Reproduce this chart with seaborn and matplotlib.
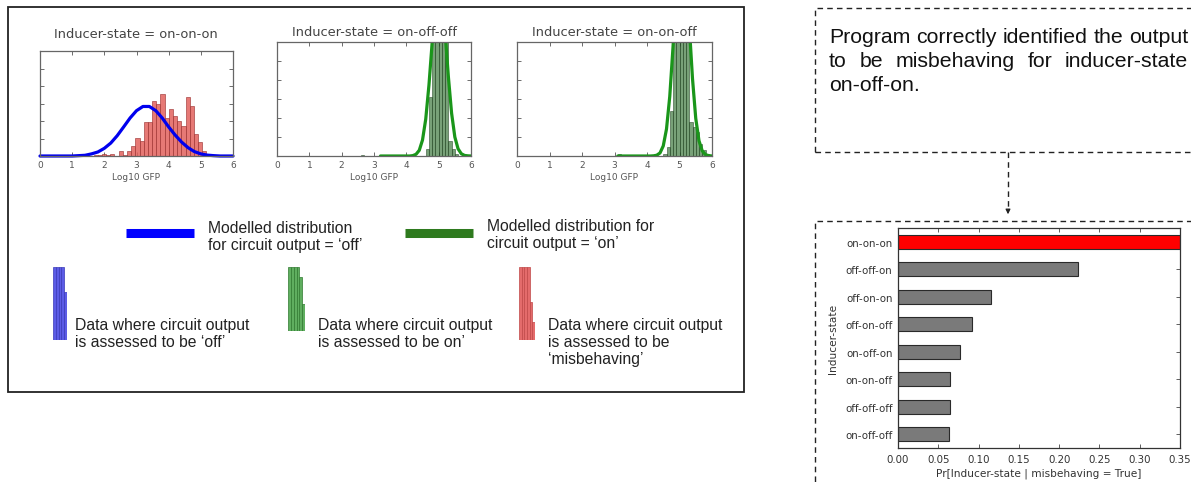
import matplotlib
matplotlib.use("Agg")
import numpy as np
import seaborn as sns
import matplotlib.pyplot as plt
from matplotlib.patches import Rectangle, FancyArrowPatch
from matplotlib.lines import Line2D

# ---- panel data ----
titles = ["Inducer-state = on-on-on", "Inducer-state = on-off-off", "Inducer-state = on-on-off"]

# on-on-on: data judged 'misbehaving' (red) + modelled 'off' distribution (blue)
p1_centers = [1.73, 1.86, 1.99, 2.12, 2.25, 2.38, 2.51, 2.64, 2.77, 2.90, 3.03, 3.16, 3.29, 3.42,
              3.55, 3.68, 3.81, 3.94, 4.07, 4.20, 4.33, 4.46, 4.59, 4.72, 4.85, 4.98, 5.11, 5.24]
p1_counts = [0.05, 0.08, 0.10, 0.04, 0.10, 0.02, 0.28, 0.06, 0.30, 0.59, 1.03, 0.88, 1.94, 1.94,
             3.12, 2.97, 3.54, 2.17, 2.67, 2.30, 1.98, 1.73, 3.35, 2.88, 1.26, 0.78, 0.30, 0.10]
p1_curve_x = [0, 1.0, 1.4, 1.6, 1.8, 2.0, 2.2, 2.4, 2.6, 2.8, 3.0, 3.2, 3.4, 3.6, 3.8, 4.0,
              4.2, 4.4, 4.6, 4.8, 5.0, 5.2, 5.4, 5.6, 6.0]
p1_curve_y = [0, 0, 0.04, 0.12, 0.23, 0.44, 0.74, 1.16, 1.66, 2.17, 2.59, 2.83, 2.83, 2.59, 2.17,
              1.66, 1.20, 0.80, 0.48, 0.25, 0.12, 0.05, 0.02, 0.0, 0]

# on-off-off: data judged 'on' (green) + modelled 'on' distribution
p2_centers = [2.65, 4.65, 4.75, 4.85, 4.95, 5.05, 5.15, 5.25, 5.35, 5.45, 5.55]
p2_counts = [0.05, 0.39, 3.1, 7.0, 10.0, 11.0, 9.0, 6.5, 0.8, 0.35, 0.12]
p2_curve_x = [3.2, 4.1, 4.2, 4.3, 4.4, 4.5, 4.6, 4.7, 4.8, 4.9, 5.0, 5.1, 5.2, 5.3, 5.4, 5.5,
              5.6, 5.7, 5.8, 5.9, 6.0]
p2_curve_y = [0, 0, 0.02, 0.09, 0.30, 0.84, 1.94, 3.74, 6.0, 8.06, 9.0, 8.36, 6.48, 4.18, 2.25,
              1.0, 0.38, 0.12, 0.03, 0.01, 0]

# on-on-off
p3_centers = [3.15, 3.85, 4.55, 4.65, 4.75, 4.85, 4.95, 5.05, 5.15, 5.25, 5.35, 5.45, 5.55,
              5.65, 5.75, 5.85]
p3_counts = [0.08, 0.06, 0.10, 0.47, 2.37, 7.0, 12.0, 12.0, 11.0, 8.0, 1.8, 1.55, 1.25, 0.65,
             0.30, 0.12]
p3_curve_x = [3.1, 4.1, 4.2, 4.3, 4.4, 4.5, 4.6, 4.7, 4.8, 4.9, 5.0, 5.1, 5.2, 5.3, 5.4, 5.5,
              5.6, 5.7, 5.8, 5.9, 6.0]
p3_curve_y = [0, 0, 0.01, 0.04, 0.16, 0.53, 1.42, 3.13, 5.72, 8.68, 10.9, 11.3, 9.7, 6.9, 4.07,
              1.98, 0.80, 0.27, 0.07, 0.02, 0]

# legend swatches (little histogram stubs)
off_stub = [1, 1, 1, 1, 0.66]
on_stub = [1, 1, 1, 1, 0.84, 0.42]
mis_stub = [1, 1, 1, 1, 0.52, 0.25]

# bar chart on the right
states = ["on-on-on", "off-off-on", "off-on-on", "off-on-off", "on-off-on", "on-on-off",
          "off-off-off", "on-off-off"]
probs = [0.35, 0.224, 0.115, 0.092, 0.077, 0.065, 0.065, 0.063]

note_lines = ["Program correctly identified the output",
              "to be misbehaving for inducer-state",
              "on-off-on."]

W, H = 1191, 485


def fx(x):
    return x / W


def fy(y):
    return 1 - y / H


def box(l, t, r, b):
    return [l / W, 1 - b / H, (r - l) / W, (b - t) / H]


sns.set_theme(style="white")
plt.rcParams["font.family"] = ["DejaVu Sans"]

fig = plt.figure(figsize=(W / 100, H / 100), dpi=100)
fig.patch.set_facecolor("white")

GREY = "#555555"


def style_panel(ax):
    ax.set_xlim(0, 6)
    ax.set_ylim(0, 6)
    ax.set_xticks(range(7))
    ax.set_yticks(range(7))
    ax.set_yticklabels([])
    ax.tick_params(direction="in", length=3, width=0.6, color=GREY, labelcolor=GREY,
                   labelsize=6.5, pad=3, top=True, right=True, left=True, bottom=True)
    for s in ax.spines.values():
        s.set_color("#666666")
        s.set_linewidth(0.9)
    ax.set_xlabel("Log10 GFP", fontsize=6.5, color=GREY, labelpad=2)
    ax.set_ylabel("")


# panel 1
ax1 = fig.add_axes(box(40, 52, 233, 157))
ax1.bar(p1_centers, p1_counts, width=0.13, color="#e2625d", alpha=0.85,
        edgecolor="#9b3030", linewidth=0.5)
sns.lineplot(x=p1_curve_x, y=p1_curve_y, ax=ax1, color="#0000ee", linewidth=2.3, clip_on=False)
style_panel(ax1)
fig.text(fx(136), fy(34), titles[0], ha="center", va="center", fontsize=9.4, color="#444444")

# panel 2
ax2 = fig.add_axes(box(277, 43, 471, 157))
ax2.bar(p2_centers, p2_counts, width=0.1, color="#3f7a3f", alpha=0.7,
        edgecolor="#1c3d1c", linewidth=0.5)
sns.lineplot(x=p2_curve_x, y=p2_curve_y, ax=ax2, color="#1a961a", linewidth=2.3)
style_panel(ax2)
fig.text(fx(374), fy(33), titles[1], ha="center", va="center", fontsize=9.4, color="#444444")

# panel 3
ax3 = fig.add_axes(box(517, 43, 712, 157))
ax3.bar(p3_centers, p3_counts, width=0.1, color="#3f7a3f", alpha=0.7,
        edgecolor="#1c3d1c", linewidth=0.5)
sns.lineplot(x=p3_curve_x, y=p3_curve_y, ax=ax3, color="#1a961a", linewidth=2.3)
style_panel(ax3)
fig.text(fx(614), fy(33), titles[2], ha="center", va="center", fontsize=9.4, color="#444444")

# outer solid frame around the left part
fig.patches.append(Rectangle((fx(8), fy(393)), (744 - 8) / W, (393 - 8) / H,
                             transform=fig.transFigure, fill=False, ec="#222222", lw=1.3))

LEG = dict(family="Liberation Sans", fontsize=11.3, color="#222222", va="baseline")

# modelled distribution keys
fig.add_artist(Line2D([fx(126), fx(194)], [fy(234), fy(234)], color="#0000ff", lw=6.5,
                      solid_capstyle="butt"))
fig.text(fx(208), fy(233), "Modelled distribution", **LEG)
fig.text(fx(208), fy(250), "for circuit output = \u2018off\u2019", **LEG)
fig.add_artist(Line2D([fx(405), fx(473)], [fy(234), fy(234)], color="#2e7a1e", lw=6.5,
                      solid_capstyle="butt"))
fig.text(fx(487), fy(231), "Modelled distribution for", **LEG)
fig.text(fx(487), fy(248), "circuit output = \u2018on\u2019", **LEG)


def stub(l, r, t, b, heights, face, edge):
    ax = fig.add_axes(box(l, t, r, b))
    ax.bar(range(len(heights)), heights, width=1.0, color=face, edgecolor=edge, linewidth=0.5)
    ax.set_xlim(-0.5, len(heights) - 0.5)
    ax.set_ylim(0, 1)
    ax.axis("off")


stub(53, 67, 268, 341, off_stub, "#5c5ce6", "#3a3ab8")
stub(288, 305, 268, 332, on_stub, "#5fae5f", "#2f7a2f")
stub(519, 535, 268, 341, mis_stub, "#e46b6b", "#c04747")

fig.text(fx(75), fy(330), "Data where circuit output", **LEG)
fig.text(fx(75), fy(347), "is assessed to be \u2018off\u2019", **LEG)
fig.text(fx(318), fy(330), "Data where circuit output", **LEG)
fig.text(fx(318), fy(347), "is assessed to be on\u2019", **LEG)
fig.text(fx(548), fy(330), "Data where circuit output", **LEG)
fig.text(fx(548), fy(347), "is assessed to be", **LEG)
fig.text(fx(548), fy(364), "\u2018misbehaving\u2019", **LEG)

# dashed boxes on the right and the arrow between them
DASH = (0, (4, 3))
fig.patches.append(Rectangle((fx(815), fy(153)), (1260 - 815) / W, (153 - 9) / H,
                             transform=fig.transFigure, fill=False, ec="#222222", lw=1.0,
                             ls=DASH))
fig.patches.append(Rectangle((fx(815), fy(520)), (1260 - 815) / W, (520 - 222) / H,
                             transform=fig.transFigure, fill=False, ec="#222222", lw=1.0,
                             ls=DASH))
fig.add_artist(Line2D([fx(1008), fx(1008)], [fy(153), fy(212)], color="#222222", lw=1.0,
                      ls=DASH))
fig.patches.append(FancyArrowPatch((fx(1008), fy(209)), (fx(1008), fy(218)),
                                   transform=fig.transFigure, arrowstyle="-|>",
                                   mutation_scale=7, color="#222222", lw=0.8))

# justified note text
NOTE = dict(family="Liberation Sans", fontsize=15.3, color="#111111", va="baseline")
renderer = fig.canvas.get_renderer()


def justify(line, x0, x1, y):
    words = line.split(" ")
    texts = [fig.text(0, fy(y), w, **NOTE) for w in words]
    widths = [t.get_window_extent(renderer).width for t in texts]
    gap = (x1 - x0 - sum(widths)) / (len(words) - 1)
    x = x0
    for t, w in zip(texts, widths):
        t.set_x(fx(x))
        x += w + gap


justify(note_lines[0], 829, 1188, 43)
justify(note_lines[1], 829, 1188, 67)
fig.text(fx(829), fy(91), note_lines[2], **NOTE)

# bar chart of Pr[inducer-state | misbehaving]
axb = fig.add_axes(box(898, 229, 1180, 449))
bar_colors = ["#ff0000"] + ["#7a7a7a"] * (len(states) - 1)
sns.barplot(x=probs, y=states, hue=states, palette=bar_colors, legend=False, width=0.5,
            saturation=1, edgecolor="#2a2a2a", linewidth=0.8, ax=axb)
axb.set_xlim(0, 0.35)
axb.set_ylim(7.5, -0.5)
axb.set_xticks(np.arange(0, 0.351, 0.05))
axb.set_xticklabels([f"{v:.2f}" for v in np.arange(0, 0.351, 0.05)])
axb.tick_params(direction="in", length=3, width=0.6, color="#444444", labelcolor="#333333",
                labelsize=7.4, top=True, right=True, left=True, bottom=True, pad=4)
for s in axb.spines.values():
    s.set_color("#333333")
    s.set_linewidth(0.9)
axb.set_xlabel("Pr[Inducer-state | misbehaving = True]", fontsize=7.6, color="#333333",
               labelpad=3)
axb.set_ylabel("Inducer-state", fontsize=7.6, color="#333333", labelpad=5)

fig.savefig("out.png", dpi=100)
